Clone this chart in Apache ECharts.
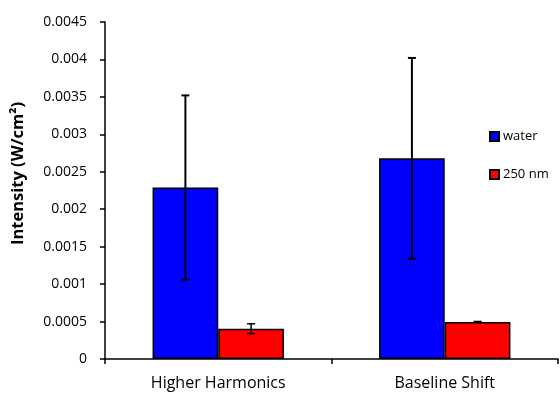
<!DOCTYPE html>
<html>
<head>
<meta charset="utf-8">
<script src="https://cdn.jsdelivr.net/npm/echarts@6/dist/echarts.min.js"></script>
<style>
  html, body { margin: 0; padding: 0; background: #fff; }
  #chart { width: 560px; height: 394px; }
</style>
</head>
<body>
<div id="chart"></div>
<script>
// Measured intensities and their standard deviations
const categories = ['Higher Harmonics', 'Baseline Shift'];
const seriesNames = ['water', '250 nm'];
const waterValues = [0.00229, 0.00268];
const waterErrors = [0.00123, 0.00134];
const nmValues = [0.000405, 0.000495];
const nmErrors = [0.000065, 0.000006];
const yTicks = [0, 0.0005, 0.001, 0.0015, 0.002, 0.0025, 0.003, 0.0035, 0.004, 0.0045];

const FONT = '"Open Sans", Lato, sans-serif';
const CAT_GAP = 0.42; // barCategoryGap fraction

function errorSeries(values, errors, index, lw) {
  return {
    type: 'custom',
    name: seriesNames[index] + ' error',
    z: 10,
    silent: true,
    data: values.map((v, i) => [i, v - errors[i], v + errors[i]]),
    renderItem: function (params, api) {
      const catW = api.size([1, 0])[0];
      const barW = catW * (1 - CAT_GAP) / 2;
      const off = (index === 0 ? -0.5 : 0.5) * barW;
      const lo = api.coord([api.value(0), api.value(1)]);
      const hi = api.coord([api.value(0), api.value(2)]);
      const x = lo[0] + off;
      const cap = 4;
      const style = { stroke: '#000', lineWidth: lw, fill: null };
      return {
        type: 'group',
        children: [
          { type: 'line', shape: { x1: x, y1: hi[1], x2: x, y2: lo[1] }, style: style },
          { type: 'line', shape: { x1: x - cap, y1: hi[1], x2: x + cap, y2: hi[1] }, style: style },
          { type: 'line', shape: { x1: x - cap, y1: lo[1], x2: x + cap, y2: lo[1] }, style: style }
        ]
      };
    }
  };
}

const chart = echarts.init(document.getElementById('chart'), null, { renderer: 'canvas' });
chart.setOption({
  animation: false,
  textStyle: { fontFamily: FONT },
  grid: { left: 105, right: 2, top: 22, bottom: 35, containLabel: false },
  legend: {
    orient: 'vertical',
    left: 484,
    top: 125,
    itemWidth: 9,
    itemHeight: 9,
    itemGap: 25,
    icon: 'rect',
    data: seriesNames,
    textStyle: { fontFamily: FONT, fontSize: 13, color: '#000', padding: [0, 0, 0, -1] }
  },
  xAxis: {
    type: 'category',
    data: categories,
    axisLine: { lineStyle: { color: '#000', width: 1.5 } },
    axisTick: { show: true, length: 5, lineStyle: { color: '#000', width: 1.5 } },
    axisLabel: { color: '#000', fontSize: 16, fontFamily: FONT, margin: 16 }
  },
  yAxis: {
    type: 'value',
    min: 0,
    max: 0.0045,
    interval: 0.0005,
    name: 'Intensity (W/cm²)',
    nameLocation: 'middle',
    nameGap: 78,
    nameTextStyle: {
      color: '#000', fontSize: 16.5, fontWeight: 'bold', fontFamily: FONT,
      padding: [0, 0, 0, 34]
    },
    splitLine: { show: false },
    axisLine: { show: true, lineStyle: { color: '#000', width: 1.5 } },
    axisTick: { show: true, length: 5, lineStyle: { color: '#000', width: 1.5 } },
    axisLabel: {
      color: '#000',
      fontSize: 14,
      fontFamily: FONT,
      margin: 18,
      formatter: function (v) {
        const t = yTicks.find(function (k) { return Math.abs(k - v) < 1e-9; });
        return t === undefined ? '' : String(t);
      }
    }
  },
  series: [
    {
      type: 'bar',
      name: seriesNames[0],
      data: waterValues,
      barGap: '0%',
      barCategoryGap: (CAT_GAP * 100) + '%',
      itemStyle: { color: '#0000ff', borderColor: '#000', borderWidth: 1.5 }
    },
    {
      type: 'bar',
      name: seriesNames[1],
      data: nmValues,
      barGap: '0%',
      barCategoryGap: (CAT_GAP * 100) + '%',
      itemStyle: { color: '#ff0000', borderColor: '#000', borderWidth: 1.5 }
    },
    errorSeries(waterValues, waterErrors, 0, 2),
    errorSeries(nmValues, nmErrors, 1, 1.5)
  ]
});
</script>
</body>
</html>
